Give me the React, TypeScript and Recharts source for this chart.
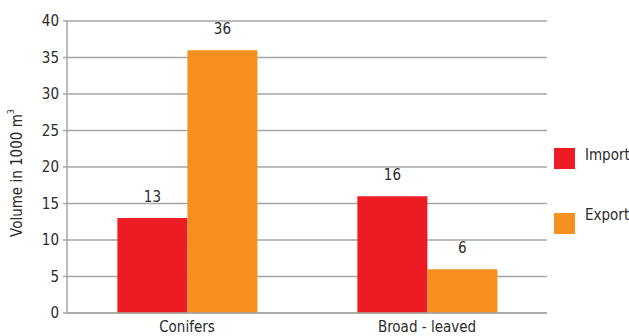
import React from 'react'
import { BarChart, Bar, XAxis, YAxis, CartesianGrid, LabelList } from 'recharts'

const categories = ['Conifers', 'Broad - leaved']
const importValues = [13, 16]
const exportValues = [36, 6]
const yTicks = [0, 5, 10, 15, 20, 25, 30, 35, 40]

const data = categories.map((name, i) => ({
  name,
  Import: importValues[i],
  Export: exportValues[i],
}))

const FONT = '"DejaVu Sans Condensed", "Liberation Sans Narrow", sans-serif'
const TEXT = '#2b2b2b'
const GRID = '#a6a6a6'
const RED = '#ed1c24'
const ORANGE = '#f7901e'

const legendItems = [
  { label: 'Import', color: RED, top: 148, textTop: 145 },
  { label: 'Export', color: ORANGE, top: 213, textTop: 205 },
]

const yLabel = (props: any) => {
  const vb = props.viewBox || {}
  const cx = 17
  const cy = (vb.y || 21) + (vb.height || 292) / 2 + 6
  return (
    <text
      x={cx}
      y={cy}
      transform={`rotate(-90, ${cx}, ${cy})`}
      textAnchor="middle"
      dominantBaseline="central"
      fill={TEXT}
      fontFamily={FONT}
      fontSize={15}
    >
      Volume in 1000 m<tspan dy={-6} fontSize={9}>3</tspan>
    </text>
  )
}

export default function App() {
  return (
    <div style={{ position: 'absolute', left: 0, top: 0, width: 629, height: 336, background: '#fff' }}>
      <BarChart
        width={629}
        height={336}
        data={data}
        margin={{ top: 21, right: 82, bottom: 0, left: 0 }}
        barCategoryGap="21%"
        barGap={0}
      >
        <CartesianGrid vertical={false} stroke={GRID} strokeWidth={1.5} />
        <XAxis
          dataKey="name"
          height={23}
          axisLine={{ stroke: GRID, strokeWidth: 1.5 }}
          tickLine={false}
          tick={{ fill: TEXT, fontFamily: FONT, fontSize: 15, dy: 0 }}
          interval={0}
        />
        <YAxis
          width={67}
          domain={[0, 40]}
          ticks={yTicks}
          interval={0}
          axisLine={{ stroke: GRID, strokeWidth: 1.5 }}
          tickLine={{ stroke: GRID, strokeWidth: 1.5 }}
          tickSize={4}
          tickMargin={4}
          tick={{ fill: TEXT, fontFamily: FONT, fontSize: 15 }}
          label={{ content: yLabel }}
        />
        <Bar dataKey="Import" fill={RED} isAnimationActive={false}>
          <LabelList dataKey="Import" position="top" offset={16} fill={TEXT} fontFamily={FONT} fontSize={15} />
        </Bar>
        <Bar dataKey="Export" fill={ORANGE} isAnimationActive={false}>
          <LabelList dataKey="Export" position="top" offset={16} fill={TEXT} fontFamily={FONT} fontSize={15} />
        </Bar>
      </BarChart>
      {legendItems.map((item) => (
        <React.Fragment key={item.label}>
          <div
            style={{
              position: 'absolute',
              left: 554,
              top: item.top,
              width: 21,
              height: 21,
              background: item.color,
            }}
          />
          <div
            style={{
              position: 'absolute',
              left: 585,
              top: item.textTop,
              fontFamily: FONT,
              fontSize: 15,
              color: TEXT,
              lineHeight: '20px',
            }}
          >
            {item.label}
          </div>
        </React.Fragment>
      ))}
    </div>
  )
}
